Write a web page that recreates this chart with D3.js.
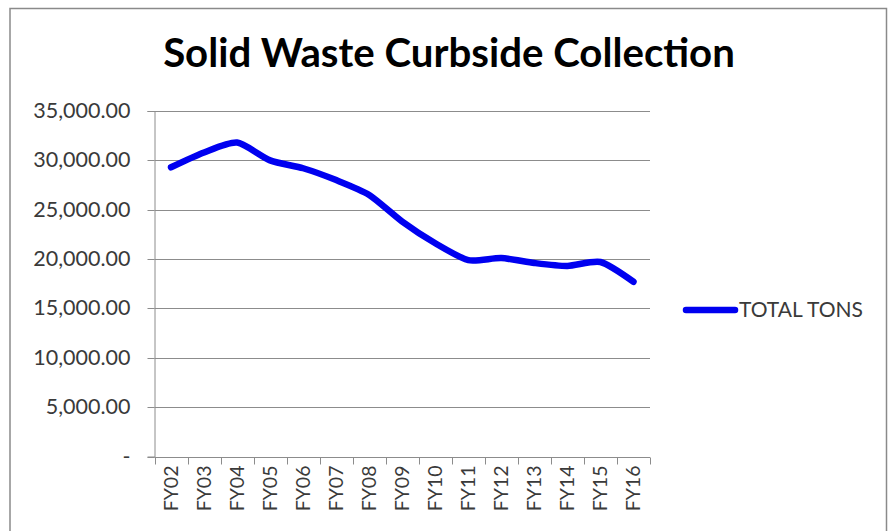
<!DOCTYPE html>
<html><head><meta charset="utf-8">
<script src="https://cdn.jsdelivr.net/npm/d3@7"></script>
<style>html,body{margin:0;padding:0;background:#fff;}svg{display:block;}</style>
</head><body>
<script>
const categories = ["FY02","FY03","FY04","FY05","FY06","FY07","FY08","FY09","FY10","FY11","FY12","FY13","FY14","FY15","FY16"];
const totalTons = [29300,30800,31800,30000,29200,28000,26500,23800,21600,19900,20100,19600,19300,19700,17700];
const yTicks = [0,5000,10000,15000,20000,25000,30000,35000];
const seriesName = "TOTAL TONS";
const titleText = "Solid Waste Curbside Collection";

const W = 888, H = 531;
const svg = d3.select("body").append("svg").attr("width", W).attr("height", H);
svg.append("rect").attr("width", W).attr("height", H).attr("fill", "#fff");
svg.append("rect").attr("x", 10).attr("y", 8.5).attr("width", 876.5).attr("height", 530)
  .attr("fill", "none").attr("stroke", "#8a8a8a").attr("stroke-width", 1.5);

const font = "Lato, 'Open Sans', sans-serif";
const x = d3.scaleBand().domain(categories).range([154.5, 650]);
const y = d3.scaleLinear().domain([0, 35000]).range([456.5, 111]);

// gridlines
svg.append("g").selectAll("line").data(yTicks.filter(d => d > 0)).join("line")
  .attr("x1", 154.5).attr("x2", 650).attr("y1", d => Math.round(y(d)) + 0.5).attr("y2", d => Math.round(y(d)) + 0.5)
  .attr("stroke", "#8c8c8c").attr("stroke-width", 1);

// y axis
const yAxis = svg.append("g").attr("transform", "translate(154.5,0)")
  .call(d3.axisLeft(y).tickValues(yTicks).tickSize(7).tickPadding(17)
    .tickFormat(d => d === 0 ? "-" : d3.format(",.2f")(d)));
yAxis.select(".domain").attr("stroke", "#8c8c8c");
yAxis.selectAll(".tick line").attr("stroke", "#8c8c8c");
yAxis.selectAll(".tick text").attr("font-family", font).attr("font-size", 21.5).attr("fill", "#3a3a3a");
yAxis.selectAll(".tick").attr("transform", d => `translate(0,${Math.round(y(d)) + 0.5})`);

// x axis
const xAxisG = svg.append("g").attr("transform", `translate(0,${Math.round(y(0)) + 0.5})`);
xAxisG.append("line").attr("x1", 154.5).attr("x2", 650).attr("stroke", "#8c8c8c");
const bounds = categories.map(c => x(c)).concat([650]);
xAxisG.selectAll(".xt").data(bounds).join("line").attr("class", "xt")
  .attr("x1", d => Math.round(d) + 0.5).attr("x2", d => Math.round(d) + 0.5).attr("y1", 0).attr("y2", 7)
  .attr("stroke", "#8c8c8c");
xAxisG.selectAll(".xl").data(categories).join("text").attr("class", "xl")
  .attr("transform", c => `translate(${x(c) + x.bandwidth() / 2 + 7},8) rotate(-90)`)
  .attr("text-anchor", "end").attr("font-family", font).attr("font-size", 19.5).attr("fill", "#3a3a3a")
  .text(c => c);

// line
const line = d3.line().x((d, i) => x(categories[i]) + x.bandwidth() / 2).y(d => y(d))
  .curve(d3.curveCardinal.tension(0.3));
svg.append("path").datum(totalTons).attr("d", line).attr("fill", "none")
  .attr("stroke", "#0000f0").attr("stroke-width", 6.5).attr("stroke-linecap", "round").attr("stroke-linejoin", "round");

// legend
svg.append("line").attr("x1", 686).attr("x2", 735).attr("y1", 310).attr("y2", 310)
  .attr("stroke", "#0000f0").attr("stroke-width", 6.5).attr("stroke-linecap", "round");
svg.append("text").attr("x", 739).attr("y", 317).attr("font-family", font).attr("font-size", 21)
  .attr("fill", "#3a3a3a").text(seriesName);

// title
const t = svg.append("text").attr("x", 449).attr("y", 67).attr("text-anchor", "middle")
  .attr("font-family", font).attr("font-weight", "bold").attr("font-size", 36).attr("fill", "#000").text(titleText);
const len = t.node().getComputedTextLength();
t.attr("font-size", 36 * 572 / len);
</script>
</body></html>
